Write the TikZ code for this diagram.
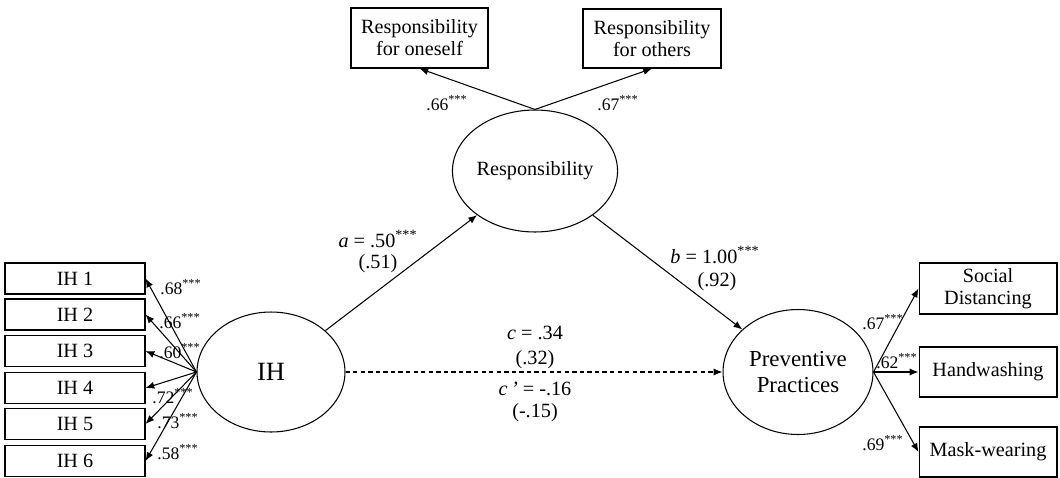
\documentclass[tikz,border=0pt]{standalone}
\usepackage{fontspec}
\setmainfont{Liberation Serif}
\usetikzlibrary{shapes,arrows.meta,positioning,calc}

\tikzset{
  ind/.style={draw, line width=0.6pt, minimum width=2.8cm, minimum height=0.62cm,
    inner sep=1pt, align=center, font=\fontsize{11.5}{12.5}\selectfont},
  lat/.style={draw, ellipse, line width=0.6pt, inner sep=0pt, align=center},
  pth/.style={-{Latex[length=5pt,width=4pt]}, line width=0.6pt},
  load/.style={font=\fontsize{10}{11}\selectfont, inner sep=1pt},
  coef/.style={font=\fontsize{11.5}{13}\selectfont, align=center, inner sep=1pt}
}

\begin{document}
\begin{tikzpicture}[x=0.02cm, y=-0.02cm]
    \useasboundingbox (0,0) rectangle (1060,477);

    % latent variables
    \node[lat, minimum width=2.96cm, minimum height=2.4cm,
      font=\fontsize{15}{16}\selectfont] (ih) at (271,372) {IH};
    \node[lat, minimum width=2.92cm, minimum height=2.44cm,
      font=\fontsize{11.5}{12.5}\selectfont] (resp) at (535,171) {Responsibility};
    \node[lat, minimum width=3cm, minimum height=2.5cm,
      font=\fontsize{13}{15}\selectfont] (pp) at (798,372) {Preventive\\Practices};

    % IH items
    \foreach \i/\y in {1/278.5, 2/314.5, 3/351, 4/388, 5/424, 6/461}
      \node[ind] (ih\i) at (75,\y) {IH \i};
    \foreach \i in {1,...,6}
      \draw[pth] (ih.west) -- (ih\i.east);
    \foreach \v/\x/\y in {.68/181/287, .66/180/321, .60/180/351, .72/173/396, .73/178/421, .58/178/452}
      \node[load] at (\x,\y) {\v\textsuperscript{***}};

    % responsibility items
    \node[ind, minimum width=2.74cm, minimum height=1.2cm, inner sep=0pt] (own) at (419.5,38)
      {Responsibility\\for oneself};
    \node[ind, minimum width=2.76cm, minimum height=1.18cm, inner sep=0pt] (oth) at (652,38.5)
      {Responsibility\\for others};
    \draw[pth] (resp.north) -- (own.south);
    \draw[pth] (resp.north) -- (oth.south);
    \node[load] at (447,103) {.66\textsuperscript{***}};
    \node[load] at (618,103) {.67\textsuperscript{***}};

    % practice items
    \node[ind, minimum width=2.76cm, minimum height=1.02cm, inner sep=0pt] (sd) at (988,288.5)
      {Social\\Distancing};
    \node[ind, minimum width=2.76cm, minimum height=1cm] (hw) at (988,372) {Handwashing};
    \node[ind, minimum width=2.76cm, minimum height=1cm] (mw) at (988,452) {Mask-wearing};
    \draw[pth] (pp.east) -- (sd.west);
    \draw[pth] (pp.east) -- (hw.west);
    \draw[pth] (pp.east) -- (mw.west);
    \node[load] at (883,322) {.67\textsuperscript{***}};
    \node[load] at (897,361) {.62\textsuperscript{***}};
    \node[load] at (883,443) {.69\textsuperscript{***}};

    % structural paths
    \draw[pth] (ih) -- (resp);
    \draw[pth] (resp) -- (pp);
    \draw[pth, dash pattern=on 2.5pt off 1.8pt] (ih) -- (pp);
    \node[coef] at (378,239) {\textit{a} = .50\textsuperscript{***}};
    \node[coef] at (378,264) {(.51)};
    \node[coef] at (715,255) {\textit{b} = 1.00\textsuperscript{***}};
    \node[coef] at (717,282) {(.92)};
    \node[coef] at (535,333) {\textit{c} = .34};
    \node[coef] at (535,360) {(.32)};
    \node[coef] at (535,389) {\textit{c\,’} = -.16};
    \node[coef] at (535,413) {(-.15)};
\end{tikzpicture}
\end{document}
